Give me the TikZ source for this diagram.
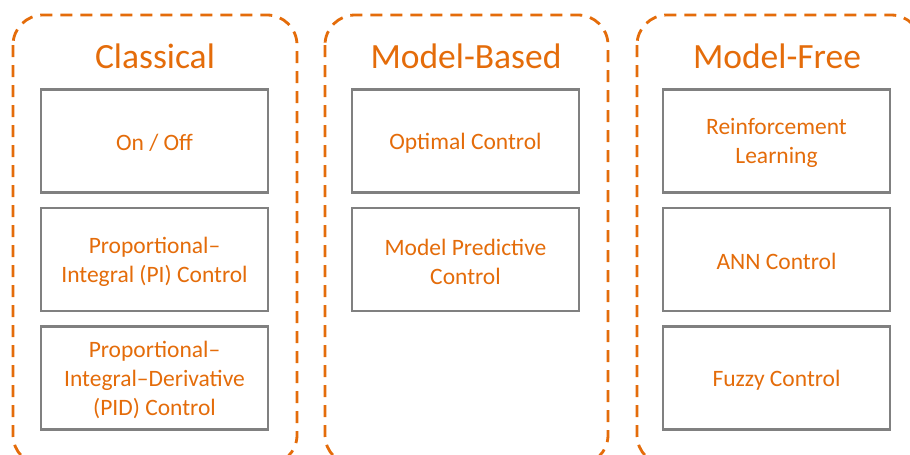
\documentclass[tikz,border=0pt]{standalone}
\usepackage{fontspec}
\setmainfont{Carlito}
\definecolor{accent}{RGB}{228,108,10}
\definecolor{frame}{RGB}{128,128,128}
% lower the content of a box while keeping its natural size
\newcommand{\lowered}[1]{\raisebox{-2pt}[\height][\depth]{#1}}
\begin{document}
\begin{tikzpicture}[x=1pt,y=-1pt,
  group/.style={draw=accent,line width=2.8pt,dash pattern=on 12pt off 8pt,rounded corners=30pt},
  title/.style={text=accent,font=\fontsize{35.5}{40}\selectfont,inner sep=0pt},
  item/.style={draw=frame,line width=2.6pt,fill=white,minimum width=227pt,minimum height=103pt,
    text=accent,align=center,font=\fontsize{23.5}{29}\selectfont,inner sep=0pt}]
\useasboundingbox (0,0) rectangle (910,455);
\clip (0,0) rectangle (910,455);
% dashed category frames
\draw[group] (13,15) rectangle (297,465);
\draw[group] (325,15) rectangle (608,465);
\draw[group] (637,15) rectangle (921,465);
% category titles
\node[title] (t1) at (155,56) {Classical};
\node[title] (t2) at (466,56) {Model-Based};
\node[title] (t3) at (777,56) {Model-Free};
% Classical
\node[item] (c1) at (154.5,141) {\lowered{On / Off}};
\node[item] (c2) at (154.5,259.5) {\lowered{\parbox{222pt}{\centering Proportional–\\Integral (PI) Control}}};
\node[item] (c3) at (154.5,378) {\lowered{\parbox{222pt}{\centering Proportional–\\Integral–Derivative\\(PID) Control}}};
% Model-Based
\node[item] (m1) at (465.5,141) {\lowered{Optimal Control}};
\node[item] (m2) at (465.5,259.5) {\lowered{\parbox{222pt}{\centering Model Predictive\\Control}}};
% Model-Free
\node[item] (f1) at (776.5,141) {\lowered{\parbox{222pt}{\centering Reinforcement\\Learning}}};
\node[item] (f2) at (776.5,259.5) {\lowered{ANN Control}};
\node[item] (f3) at (776.5,378) {\lowered{Fuzzy Control}};
\end{tikzpicture}
\end{document}
